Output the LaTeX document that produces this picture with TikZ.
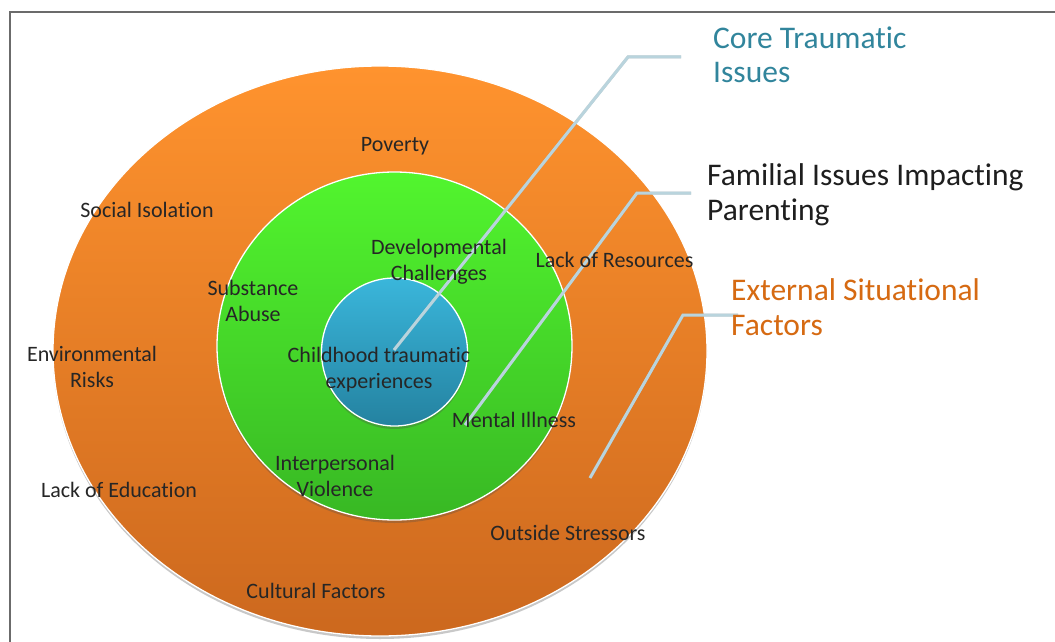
\documentclass[tikz,border=0pt]{standalone}
\usepackage{fontspec}
\setmainfont{Carlito}[Ligatures=CommonOff]
\usetikzlibrary{shapes.geometric,shadows}
\definecolor{orTop}{RGB}{255,147,46}
\definecolor{orBot}{RGB}{204,104,30}
\definecolor{grTop}{RGB}{82,245,46}
\definecolor{grBot}{RGB}{56,184,36}
\definecolor{blTop}{RGB}{58,182,219}
\definecolor{blBot}{RGB}{36,130,160}
\definecolor{txt}{RGB}{38,38,38}
\definecolor{frameCol}{RGB}{107,107,107}
\definecolor{lineCol}{RGB}{185,212,221}
\definecolor{tealCol}{RGB}{49,133,156}
\definecolor{orangeTxt}{RGB}{214,106,18}
\definecolor{darkTxt}{RGB}{30,30,30}
\begin{document}
\begin{tikzpicture}[x=1pt,y=-1pt,
  ring/.style={ellipse, inner sep=0pt, outer sep=0pt, draw=white, line width=1.3pt,
    drop shadow={shadow xshift=0pt, shadow yshift=-3pt, opacity=0.3, fill=black!70}},
  lbl/.style={font=\fontsize{22}{26}\selectfont, text=txt, align=center, inner sep=0pt, anchor=base},
  ttl/.style={font=\fontsize{31.5}{35}\selectfont, align=left, inner sep=0pt, anchor=base west},
  callout/.style={draw=lineCol, line width=3pt},
  calloutshadow/.style={draw=black!40, line width=3pt, opacity=0.45, xshift=0.8pt, yshift=-1.2pt}]
\useasboundingbox (0,0) rectangle (1055,642);
\fill[white] (0,0) rectangle (1055,642);
\draw[frameCol, line width=2pt] (10,645) -- (10,12) -- (1058,12);

% rings
\node[ring, minimum width=654pt, minimum height=570pt, top color=orTop, bottom color=orBot] (outer) at (380,351) {};
\node[ring, minimum width=355pt, minimum height=348pt, top color=grTop, bottom color=grBot] (middle) at (394.5,346) {};
\node[ring, minimum width=146pt, minimum height=148pt, top color=blTop, bottom color=blBot] (inner) at (394.5,352) {};

% callout coordinates
\coordinate (c1a) at (394,350);
\coordinate (c1b) at (628,57);
\coordinate (c1c) at (681,57);
\coordinate (c2a) at (465,425);
\coordinate (c2b) at (637,193);
\coordinate (c2c) at (691,193);
\coordinate (c3a) at (590,478);
\coordinate (c3b) at (683,315);
\coordinate (c3c) at (738,315);

\draw[calloutshadow] (c1a) -- (c1b) -- (c1c);
\draw[calloutshadow] (c2a) -- (c2b) -- (c2c);
\draw[calloutshadow] (c3a) -- (c3b) -- (c3c);
\draw[callout] (c1a) -- (c1b) -- (c1c);
\draw[callout] (c2a) -- (c2b) -- (c2c);
\draw[callout] (c3a) -- (c3b) -- (c3c);

% labels (anchor=base is the baseline of the last line)
\node[lbl] (poverty) at (395,151) {Poverty};
\node[lbl] (social) at (147,217) {Social Isolation};
\node[lbl] (devel) at (439,280) {Developmental\\Challenges};
\node[lbl] (resources) at (614.5,267) {Lack of Resources};
\node[lbl] (substance) at (253,321) {Substance\\Abuse};
\node[lbl] (environ) at (92,387) {Environmental\\Risks};
\node[lbl] (childhood) at (379,388) {Childhood traumatic\\experiences};
\node[lbl] (mental) at (514,427) {Mental Illness};
\node[lbl] (interp) at (335,496) {Interpersonal\\Violence};
\node[lbl] (education) at (119,497) {Lack of Education};
\node[lbl] (stressors) at (568,540) {Outside Stressors};
\node[lbl] (cultural) at (316,598) {Cultural Factors};

% titles
\node[ttl, text=tealCol] (core) at (713,83) {Core Traumatic\\Issues};
\node[ttl, text=darkTxt] (familial) at (707,220) {Familial Issues Impacting\\Parenting};
\node[ttl, text=orangeTxt] (external) at (731,335) {External Situational\\Factors};
\end{tikzpicture}
\end{document}
